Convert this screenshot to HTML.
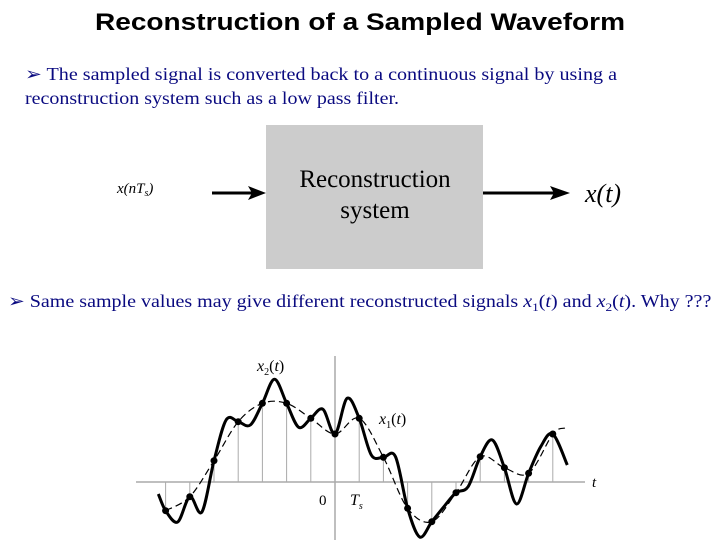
<!DOCTYPE html>
<html><head><meta charset="utf-8"><style>
html,body{margin:0;padding:0;background:#fff;}
svg{display:block;}
</style></head><body>
<svg width="720" height="540" viewBox="0 0 720 540" xmlns="http://www.w3.org/2000/svg">
<text x="360" y="30" text-anchor="middle" font-family="Liberation Sans, sans-serif" font-weight="bold" font-size="24" textLength="530" lengthAdjust="spacingAndGlyphs">Reconstruction of a Sampled Waveform</text>
<text x="25" y="80" font-family="Liberation Serif, DejaVu Serif, serif" font-size="18" fill="#0a0a80" textLength="592" lengthAdjust="spacingAndGlyphs">➢ The sampled signal is converted back to a continuous signal by using a</text>
<text x="25" y="104" font-family="Liberation Serif, serif" font-size="18" fill="#0a0a80" textLength="374" lengthAdjust="spacingAndGlyphs">reconstruction system such as a low pass filter.</text>

<text x="117" y="193" font-family="Liberation Serif, serif" font-style="italic" font-size="15">x(nT<tspan font-size="10" dy="3">s</tspan><tspan dy="-3">)</tspan></text>
<line x1="212" y1="193" x2="255" y2="193" stroke="#000" stroke-width="3"/>
<polygon points="266,193 248,186 252,193 248,200" fill="#000"/>
<rect x="266" y="125" width="217" height="144" fill="#cccccc"/>
<text x="375" y="187" text-anchor="middle" font-family="Liberation Serif, serif" font-size="25">Reconstruction</text>
<text x="375" y="218" text-anchor="middle" font-family="Liberation Serif, serif" font-size="25">system</text>
<line x1="483" y1="193" x2="558" y2="193" stroke="#000" stroke-width="3"/>
<polygon points="570,193 550,186 554,193 550,200" fill="#000"/>
<text x="585" y="202" font-family="Liberation Serif, serif" font-style="italic" font-size="26">x(t)</text>

<text id="b2" x="0" y="0" transform="translate(8,307)" font-family="Liberation Serif, serif" font-size="18" fill="#0a0a80">➢ Same sample values may give different reconstructed signals <tspan font-style="italic">x</tspan><tspan font-size="12" dy="4">1</tspan><tspan dy="-4">(</tspan><tspan font-style="italic">t</tspan>) and <tspan font-style="italic">x</tspan><tspan font-size="12" dy="4">2</tspan><tspan dy="-4">(</tspan><tspan font-style="italic">t</tspan>). Why ???</text>

<g id="chart"></g>
</svg>
<script>
const sampleN = [-7,-6,-5,-4,-3,-2,-1,0,1,2,3,4,5,6,7,8,9];
const sampleVals = [-28.7,-14.7,21.3,60.3,78.7,78.7,63.7,48,63.7,24.7,-26.3,-39.7,-10.7,25.3,14.3,8.7,48];
const x1EndN = [9.5];
const x1EndVals = [54];
const x2MidN = [-7.3,-6.5,-5.5,-4.5,-3.5,-2.5,-1.5,-0.5,0.5,1.5,2.5,3.5,4.5,5.5,6.5,7.5,8.5,9.6];
const x2MidVals = [-12,-40,-30,62,57,102.7,54.7,72.7,83.7,27,25.3,-55,-24.7,-4.7,42,-22,35.3,17];

// fit bullet 2 width
(function(){const b=document.getElementById('b2');const w=b.getComputedTextLength();const k=704/w;b.setAttribute('transform','translate(8,307) scale('+k.toFixed(4)+',1)');})();

const NS='http://www.w3.org/2000/svg';
const g=document.getElementById('chart');
const X0=335, TS=24.2, Y0=482;
const sx=n=>X0+n*TS, sy=v=>Y0-v;
function mk(tag,attrs){const e=document.createElementNS(NS,tag);for(const k in attrs)e.setAttribute(k,attrs[k]);g.appendChild(e);return e;}
function crPath(pts){
  let d='M'+pts[0][0].toFixed(1)+','+pts[0][1].toFixed(1);
  for(let i=0;i<pts.length-1;i++){
    const p0=pts[i-1]||pts[i],p1=pts[i],p2=pts[i+1],p3=pts[i+2]||pts[i+1];
    const c1=[p1[0]+(p2[0]-p0[0])/6,p1[1]+(p2[1]-p0[1])/6];
    const c2=[p2[0]-(p3[0]-p1[0])/6,p2[1]-(p3[1]-p1[1])/6];
    d+=' C'+c1.map(v=>v.toFixed(1))+' '+c2.map(v=>v.toFixed(1))+' '+p2[0].toFixed(1)+','+p2[1].toFixed(1);
  }
  return d;
}
let e=mk('line',{x1:136,y1:Y0,x2:585,y2:Y0,stroke:'#aaa','stroke-width':1.5});


e=mk('line',{x1:X0,y1:356,x2:X0,y2:540,stroke:'#aaa','stroke-width':1.5});


sampleN.forEach((n,i)=>{
  const s=mk('line',{x1:sx(n),y1:Y0,x2:sx(n),y2:sy(sampleVals[i]),stroke:'#aaa','stroke-width':1});
  
  
});
const p1=sampleN.map((n,i)=>[sx(n),sy(sampleVals[i])]).concat(x1EndN.map((n,i)=>[sx(n),sy(x1EndVals[i])]));
e=mk('path',{d:crPath(p1),fill:'none',stroke:'#000','stroke-width':1.2,'stroke-dasharray':'7,4'});


const all=[];
sampleN.forEach((n,i)=>all.push([n,sampleVals[i]]));
x2MidN.forEach((n,i)=>all.push([n,x2MidVals[i]]));
all.sort((a,b)=>a[0]-b[0]);
e=mk('path',{d:crPath(all.map(p=>[sx(p[0]),sy(p[1])])),fill:'none',stroke:'#000','stroke-width':3});


sampleN.forEach((n,i)=>{
  const c=mk('circle',{cx:sx(n),cy:sy(sampleVals[i]),r:3.5,fill:'#000'});
  
  
});
function txt(x,y,html,name,size){const t=document.createElementNS(NS,'text');t.setAttribute('x',x);t.setAttribute('y',y);t.setAttribute('font-family','Liberation Serif, serif');t.setAttribute('font-size',size);t.innerHTML=html;g.appendChild(t);

}
txt(592,487,'<tspan font-style="italic">t</tspan>','t-axis-label',15);
txt(319,505,'0','origin-label',15);
txt(350,505,'<tspan font-style="italic">T</tspan><tspan font-size="10" dy="4" font-style="italic">s</tspan>','ts-label',16);
txt(257,371,'<tspan font-style="italic">x</tspan><tspan font-size="10" dy="4">2</tspan><tspan dy="-4">(</tspan><tspan font-style="italic">t</tspan>)','x2-label',16);
txt(379,424,'<tspan font-style="italic">x</tspan><tspan font-size="10" dy="4">1</tspan><tspan dy="-4">(</tspan><tspan font-style="italic">t</tspan>)','x1-label',16);
</script>
</body></html>
